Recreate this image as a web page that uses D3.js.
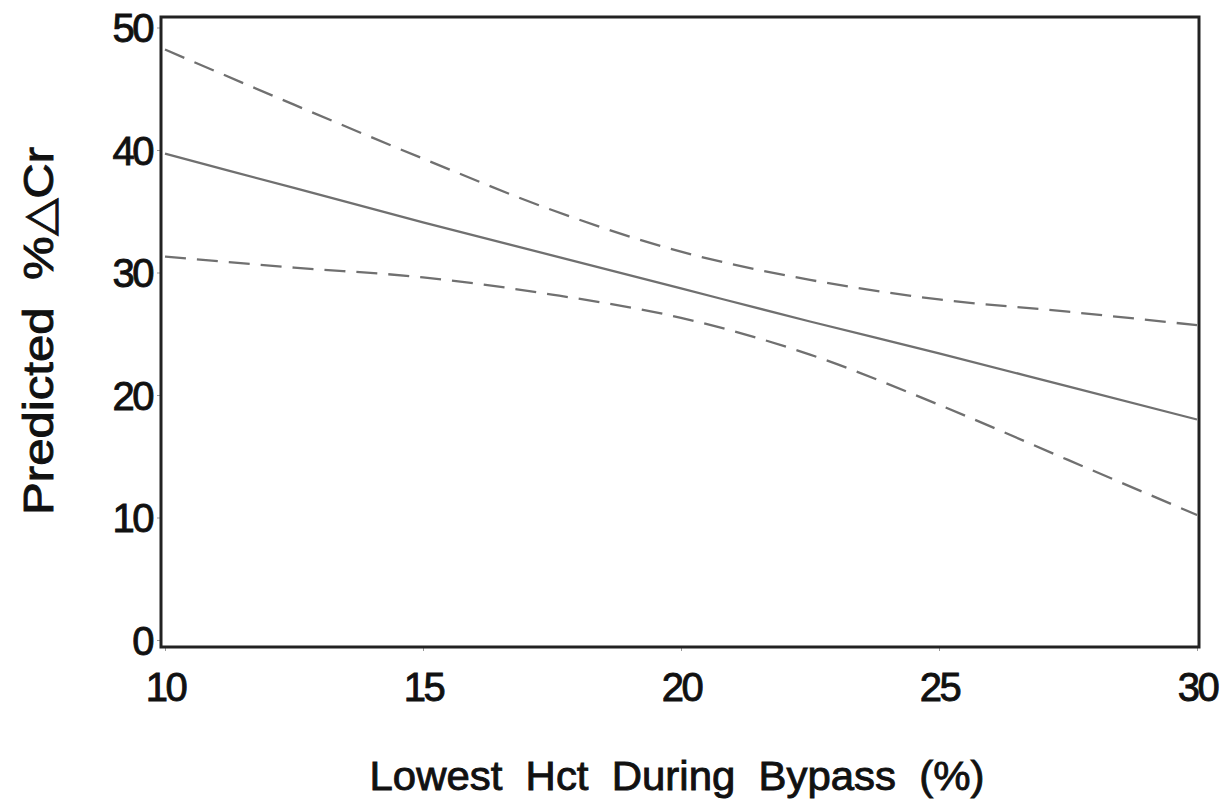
<!DOCTYPE html>
<html>
<head>
<meta charset="utf-8">
<script src="https://cdn.jsdelivr.net/npm/d3@7"></script>
<style>
  html, body { margin: 0; padding: 0; background: #fff; }
  svg { display: block; font-family: 'Liberation Sans', Arial, sans-serif; }
  text { white-space: pre; }
</style>
</head>
<body>
<svg id="chart" width="1221" height="809"></svg>
<script>
// Lowest Hct during bypass (%)
const hct = [10, 12.5, 15, 17.5, 20, 22.5, 25, 27.5, 30]
// predicted %ΔCr and its confidence band
const predicted = [39.7, 36.9, 34.1, 31.4, 28.7, 26.0, 23.4, 20.7, 18.0]
const upper = [48.2, 43.7, 39.3, 35.1, 31.7, 29.4, 27.8, 26.8, 25.7]
const lower = [31.3, 30.4, 29.6, 28.2, 26.3, 23.3, 19.2, 14.7, 10.2]
const xTicks = [10, 15, 20, 25, 30]
const yTicks = [0, 10, 20, 30, 40, 50]

const svg = d3.select('#chart')
const frame = { left: 161, right: 1199, top: 17, bottom: 647 }

const x = d3.scaleLinear().domain([10, 30]).range([165, 1197])
const y = d3.scaleLinear().domain([0, 50]).range([640, 27.5])

// axes
const xAxis = svg.append('g')
  .attr('transform', `translate(0,${frame.bottom})`)
  .call(d3.axisBottom(x).tickValues(xTicks).tickSize(4).tickPadding(22).tickFormat(d3.format('d')))
const yAxis = svg.append('g')
  .attr('transform', `translate(${frame.left},0)`)
  .call(d3.axisLeft(y).tickValues(yTicks).tickSize(4).tickPadding(5).tickFormat(d3.format('d')))

for (const ax of [xAxis, yAxis]) {
  ax.select('.domain').remove()
  ax.selectAll('.tick line').attr('stroke', '#999').attr('stroke-width', 1)
  ax.selectAll('.tick text')
    .attr('font-size', 40)
    .attr('letter-spacing', -2.5)
    .attr('fill', '#111')
    .attr('stroke', '#111')
    .attr('stroke-width', 0.9)
}
yAxis.selectAll('.tick text').attr('dy', '0.36em')

// frame
svg.append('rect')
  .attr('x', frame.left).attr('y', frame.top)
  .attr('width', frame.right - frame.left).attr('height', frame.bottom - frame.top)
  .attr('fill', 'none').attr('stroke', '#222').attr('stroke-width', 3)

// lines
const line = d3.line().x((d) => x(d[0])).y((d) => y(d[1])).curve(d3.curveMonotoneX)
const series = [
  { values: predicted, dash: null },
  { values: upper, dash: '21,11' },
  { values: lower, dash: '21,11' },
]
svg.append('g').selectAll('path')
  .data(series)
  .join('path')
  .attr('d', (s) => line(hct.map((h, i) => [h, s.values[i]])))
  .attr('fill', 'none')
  .attr('stroke', '#707070')
  .attr('stroke-width', 2.3)
  .attr('stroke-dasharray', (s) => s.dash)

// axis titles
svg.append('text')
  .attr('x', 677).attr('y', 790)
  .attr('text-anchor', 'middle')
  .attr('font-size', 41)
  .attr('fill', '#111')
  .attr('stroke', '#111')
  .attr('stroke-width', 0.9)
  .attr('textLength', 615)
  .attr('lengthAdjust', 'spacingAndGlyphs')
  .text('Lowest  Hct  During  Bypass  (%)')

svg.append('text')
  .attr('transform', 'translate(53,331) rotate(-90)')
  .attr('text-anchor', 'middle')
  .attr('font-size', 42)
  .attr('fill', '#111')
  .attr('stroke', '#111')
  .attr('stroke-width', 0.9)
  .attr('textLength', 368)
  .attr('lengthAdjust', 'spacingAndGlyphs')
  .text('Predicted  %△Cr')
</script>
</body>
</html>
